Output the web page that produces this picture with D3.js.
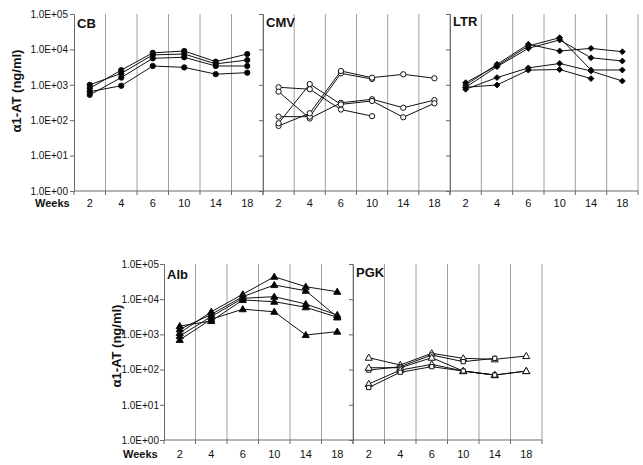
<!DOCTYPE html>
<html>
<head>
<meta charset="utf-8">
<script src="https://cdn.jsdelivr.net/npm/d3@7"></script>
<style>
  html, body { margin: 0; padding: 0; background: #fff; }
  svg { display: block; font-family: Arial, "Liberation Sans", sans-serif; }
</style>
</head>
<body>
<svg id="chart" width="643" height="465"></svg>
<script>
// ---------------- DATA ----------------
const weeks = ["2", "4", "6", "10", "14", "18"];
const yTickValues = [1, 10, 100, 1000, 10000, 100000];
const yTickLabels = ["1.0E+00", "1.0E+01", "1.0E+02", "1.0E+03", "1.0E+04", "1.0E+05"];
const yTitle = "\u03b11-AT (ng/ml)";
const xTitle = "Weeks";

// CB (filled circles)
const cbSeries = [
  [800, 2600, 8000, 9000, 4500, 7400],
  [1000, 2100, 7000, 7400, 3900, 5000],
  [520, 1600, 5600, 6000, 3400, 3400],
  [640, 940, 3400, 3100, 2000, 2200]
];
// CMV (open circles)
const cmvSeries = [
  [850, 750, 200, 130, null, null],
  [640, 112, 310, 390, 225, 370],
  [126, 126, 2100, 1460, null, null],
  [69, 157, 2450, 1590, 1980, 1530],
  [82, 1050, 280, 350, 121, 300]
];
// LTR (filled diamonds)
const ltrSeries = [
  [990, 3800, 14000, 9000, 10700, 8600],
  [1150, 3450, 12500, 21400, 2620, 2620],
  [850, 3250, 10700, 18500, 5800, 4700],
  [750, 1600, 3000, 4000, 2450, 1280],
  [850, 990, 2600, 2700, 1500, null]
];
// Alb (filled triangles)
const albSeries = [
  [1100, 4400, 13800, 43500, 22600, 16300],
  [1400, 3700, 11800, 25300, 17400, 3100],
  [900, 3200, 10600, 11800, 7300, 3560],
  [1730, 2400, 9500, 8500, 5900, 3060],
  [700, 2700, 5200, 4400, 960, 1200]
];
// PGK (open triangles / open squares)
const pgkSeries = [
  [218, 135, 290, 209, 196, 243],
  [97, 121, 260, 168, 209, null],
  [113, 113, 218, 91, 70, 91],
  [39, 97, 141, 91, 70, 91],
  [31, 84, 121, 91, 70, null]
];
const pgkMarkers = ["triangle", "square", "triangle", "triangle", "square"];

const panelNames = ["CB", "CMV", "LTR", "Alb", "PGK"];

// ---------------- LAYOUT ----------------
const svg = d3.select("#chart");
const rows = [
  { yTop: 14, yBot: 191, labelY: 207, titleX: 21, titleY: 91, weeksX: 35, tickLabelX: 68 },
  { yTop: 264, yBot: 440, labelY: 458, titleX: 121, titleY: 346, weeksX: 123, tickLabelX: 159 }
];
const panels = [
  { name: panelNames[0], series: cbSeries, marker: "circle", fill: true, row: 0, x0: 74, w: 189, first: true, nameY: 28 },
  { name: panelNames[1], series: cmvSeries, marker: "circle", fill: false, row: 0, x0: 263, w: 187, first: false, nameY: 27 },
  { name: panelNames[2], series: ltrSeries, marker: "diamond", fill: true, row: 0, x0: 450, w: 188, first: false, nameY: 26 },
  { name: panelNames[3], series: albSeries, marker: "triangle", fill: true, row: 1, x0: 164, w: 189, first: true, nameY: 279 },
  { name: panelNames[4], series: pgkSeries, marker: pgkMarkers, fill: false, row: 1, x0: 353, w: 189, first: false, nameY: 277 }
];

const symbolTypes = {
  circle: d3.symbolCircle,
  diamond: d3.symbolDiamond2,
  triangle: d3.symbolTriangle,
  square: d3.symbolSquare
};
const symbolSizes = { circle: 22, diamond: 22, triangle: 22, square: 18 };

const gridColor = "#a0a0a0";
const axisColor = "#6a6a6a";

panels.forEach(p => {
  const r = rows[p.row];
  const g = svg.append("g");
  const x = d3.scaleBand().domain(weeks).range([p.x0, p.x0 + p.w]);
  const y = d3.scaleLog().domain([1, 100000]).range([r.yBot, r.yTop]);
  const bw = x.bandwidth();

  // vertical gridlines at category boundaries
  const bounds = weeks.map(w => x(w) + bw);
  g.selectAll("line.grid").data(bounds).enter().append("line")
    .attr("x1", d => d).attr("x2", d => d)
    .attr("y1", r.yTop).attr("y2", r.yBot)
    .attr("stroke", gridColor).attr("stroke-width", 1);

  // x tick marks at boundaries
  const tickPos = [p.x0].concat(bounds);
  g.selectAll("line.xt").data(tickPos).enter().append("line")
    .attr("x1", d => d).attr("x2", d => d)
    .attr("y1", r.yBot).attr("y2", r.yBot + 4)
    .attr("stroke", axisColor).attr("stroke-width", 1);

  // x axis line
  g.append("line")
    .attr("x1", p.x0).attr("x2", p.x0 + p.w)
    .attr("y1", r.yBot).attr("y2", r.yBot)
    .attr("stroke", axisColor).attr("stroke-width", 1);

  // y axis with ticks
  const yAxis = d3.axisLeft(y).tickValues(yTickValues).tickSize(4)
    .tickFormat((d, i) => p.first ? yTickLabels[i] : "");
  const ya = g.append("g").attr("transform", `translate(${p.x0},0)`).call(yAxis);
  ya.select(".domain").attr("stroke", axisColor);
  ya.selectAll(".tick line").attr("stroke", axisColor);
  ya.selectAll(".tick text").attr("font-size", 10).attr("fill", "#111")
    .attr("x", r.tickLabelX - p.x0);

  // category labels
  g.selectAll("text.cat").data(weeks).enter().append("text")
    .attr("x", d => x(d) + bw / 2).attr("y", r.labelY)
    .attr("text-anchor", "middle").attr("font-size", 11).attr("fill", "#111")
    .text(d => d);

  // panel name
  g.append("text").attr("x", p.x0 + 3).attr("y", p.nameY)
    .attr("font-size", 13).attr("font-weight", "bold").attr("fill", "#111")
    .text(p.name);

  // lines
  const line = d3.line()
    .defined(d => d != null)
    .x((d, i) => x(weeks[i]) + bw / 2)
    .y(d => y(d));
  p.series.forEach((s, si) => {
    g.append("path").datum(s).attr("d", line)
      .attr("fill", "none").attr("stroke", "#111").attr("stroke-width", 1);
  });
  // markers
  p.series.forEach((s, si) => {
    const mk = Array.isArray(p.marker) ? p.marker[si] : p.marker;
    const sym = d3.symbol().type(symbolTypes[mk]).size(symbolSizes[mk]);
    const pts = s.map((v, i) => ({ v, i })).filter(d => d.v != null);
    g.selectAll(null).data(pts).enter().append("path")
      .attr("d", sym)
      .attr("transform", d => `translate(${x(weeks[d.i]) + bw / 2},${y(d.v) + (mk === "triangle" ? 0.5 : 0)})`)
      .attr("fill", p.fill ? "#000" : "#fff")
      .attr("stroke", "#111").attr("stroke-width", 1);
  });
});

// row titles
rows.forEach(r => {
  svg.append("text").attr("x", r.weeksX).attr("y", r.labelY)
    .attr("font-size", 11).attr("font-weight", "bold").attr("fill", "#111")
    .text(xTitle);
  svg.append("text")
    .attr("transform", `translate(${r.titleX},${r.titleY}) rotate(-90)`)
    .attr("text-anchor", "middle").attr("font-size", 13).attr("font-weight", "bold").attr("fill", "#111")
    .text(yTitle);
});
</script>
</body>
</html>
